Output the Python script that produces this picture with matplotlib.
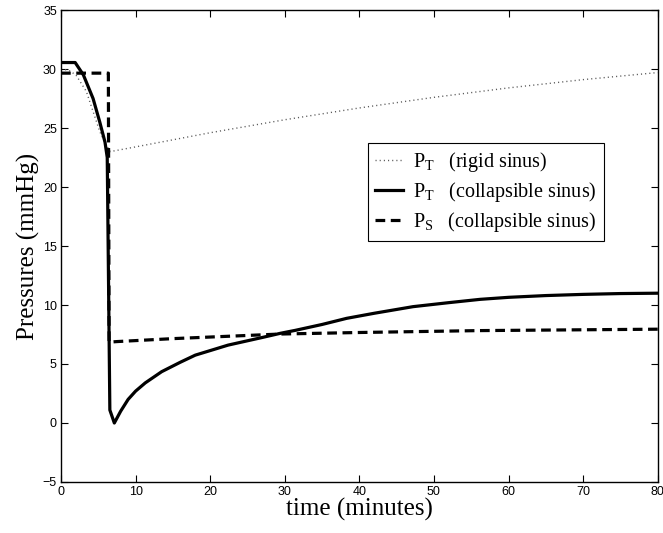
import matplotlib
matplotlib.use("Agg")
import matplotlib.pyplot as plt
import numpy as np

# Rigid sinus, P_T (dotted)
t_rigid = [0, 1, 2, 2.3, 3.4, 4.3, 5.2, 6.0, 6.6, 10, 20, 30, 40, 50, 60, 70, 80]
p_rigid = [30.0, 29.9, 29.5, 29.2, 28.1, 26.4, 24.7, 23.6, 23.0, 23.4, 24.6, 25.7, 26.7, 27.6, 28.4, 29.1, 29.7]

# Collapsible sinus, P_T (solid)
t_coll = [0, 1.9, 3.0, 4.3, 5.2, 5.9, 6.2, 6.55, 7.15, 8, 9, 10, 11.3, 13.5, 16, 18, 22.4, 27,
          29.4, 31.4, 35, 38.3, 42, 47.2, 52, 56.2, 60, 65, 70, 75, 80]
p_coll = [30.55, 30.55, 29.5, 27.5, 25.5, 23.8, 22.5, 1.1, 0.0, 1.0, 2.0, 2.7, 3.4, 4.35, 5.15,
          5.75, 6.6, 7.25, 7.6, 7.85, 8.35, 8.87, 9.3, 9.86, 10.2, 10.48, 10.65, 10.8, 10.9, 10.97, 11.0]

# Collapsible sinus, P_S (dashed)
t_ps = [0, 6.35, 6.45, 7.5, 15, 25, 29.4, 40, 56, 80]
p_ps = [29.65, 29.65, 6.85, 6.9, 7.15, 7.42, 7.54, 7.67, 7.83, 7.95]

x_ticks = [0, 10, 20, 30, 40, 50, 60, 70, 80]
y_ticks = [-5, 0, 5, 10, 15, 20, 25, 30, 35]

plt.rcParams['mathtext.fontset'] = 'custom'
plt.rcParams['mathtext.rm'] = 'Liberation Serif'
plt.rcParams['mathtext.it'] = 'Liberation Serif:italic'
plt.rcParams['lines.scale_dashes'] = False

fig = plt.figure(figsize=(6.63, 5.33), dpi=100)
ax = fig.add_axes([0.092, 0.0957, 0.900, 0.8855])

ax.plot(t_rigid, p_rigid, color='0.35', lw=1.0, dashes=(0.8, 2.2),
        label=r'P$_\mathrm{T}$   (rigid sinus)')
ax.plot(t_coll, p_coll, color='black', lw=2.3, solid_joinstyle='round',
        label=r'P$_\mathrm{T}$   (collapsible sinus)')
ax.plot(t_ps, p_ps, color='black', lw=2.3, dashes=(7.0, 4.0),
        label=r'P$_\mathrm{S}$   (collapsible sinus)')

ax.set_xlim(0, 80)
ax.set_ylim(-5, 35)
ax.set_xticks(x_ticks)
ax.set_yticks(y_ticks)
ax.set_xticklabels([str(v) for v in x_ticks], family='Liberation Sans', fontsize=9)
ax.set_yticklabels([str(v).replace('-', '\u2212') for v in y_ticks], family='Liberation Sans', fontsize=9)
ax.tick_params(direction='in', length=5, width=0.8, top=True, right=True, pad=3)
for s in ax.spines.values():
    s.set_linewidth(1.0)

ax.set_xlabel('time (minutes)', family='Liberation Serif', fontsize=18, labelpad=0)
ax.set_ylabel('Pressures (mmHg)', family='Liberation Serif', fontsize=18, labelpad=2)

leg = ax.legend(loc='upper left', bbox_to_anchor=(0.514, 0.718),
                prop={'family': 'Liberation Serif', 'size': 14.5},
                frameon=True, fancybox=False, edgecolor='black', framealpha=1,
                handlelength=1.4, handletextpad=0.5, borderpad=0.35, labelspacing=0.3,
                borderaxespad=0)
leg.get_frame().set_linewidth(0.8)

fig.savefig('out.png', dpi=100)
